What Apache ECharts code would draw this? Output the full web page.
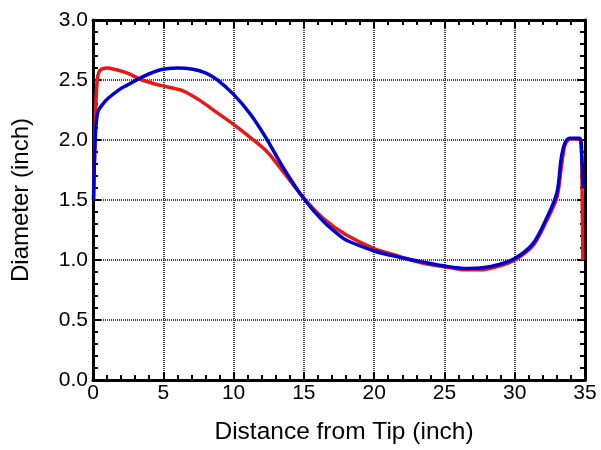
<!DOCTYPE html>
<html>
<head>
<meta charset="utf-8">
<script src="https://cdn.jsdelivr.net/npm/echarts@6/dist/echarts.min.js"></script>
<style>html,body{margin:0;padding:0;background:#fff}#c{width:601px;height:450px}</style>
</head>
<body>
<div id="c"></div>
<script>
var redX = [0.05, 0.15, 0.3, 0.5, 1.0, 1.5, 2.4, 3.5, 4.8, 6.4, 7.6, 8.8, 10, 11.2, 12.4, 13.5, 15, 16.4, 18, 20, 21.8, 23.6, 25, 26.5, 27.5, 28.9, 30, 31.3, 32.2, 33, 33.3, 33.55, 33.8, 34.1, 34.72, 34.8, 34.85];
var redY = [1.5, 2.1, 2.5, 2.58, 2.6, 2.59, 2.56, 2.5, 2.455, 2.41, 2.33, 2.23, 2.13, 2.02, 1.9, 1.74, 1.515, 1.345, 1.21, 1.095, 1.03, 0.97, 0.944, 0.918, 0.918, 0.95, 1.0, 1.12, 1.31, 1.52, 1.76, 1.95, 2.0, 2.01, 2.0, 1.5, 1.0];
var blueX = [0.03, 0.1, 0.2, 0.36, 0.7, 1.1, 2.0, 2.4, 3.6, 4.8, 6.0, 7.1, 8.0, 8.8, 10, 11.2, 12.35, 13.5, 15, 16.4, 17.8, 18.3, 20, 21.8, 23.6, 25, 26.6, 27.7, 28.9, 30, 31.3, 32.25, 33.0, 33.3, 33.55, 33.9, 34.6, 34.75, 34.85];
var blueY = [1.5, 1.8, 2.1, 2.24, 2.30, 2.35, 2.43, 2.455, 2.53, 2.585, 2.60, 2.59, 2.56, 2.505, 2.38, 2.215, 2.01, 1.775, 1.51, 1.32, 1.18, 1.15, 1.075, 1.023, 0.98, 0.95, 0.93, 0.935, 0.963, 1.012, 1.137, 1.344, 1.56, 1.84, 1.967, 2.014, 2.014, 1.9, 1.6];
var xName = 'Distance from Tip (inch)';
var yName = 'Diameter (inch)';

function pairs(xs, ys) { return xs.map(function (x, i) { return [x, ys[i]]; }); }

var font = 'Liberation Sans, Arial, sans-serif';
var axisLine = { show: true, onZero: false, lineStyle: { color: '#000', width: 3 } };
var tick = { show: true, inside: true, length: 8, lineStyle: { color: '#000', width: 2 } };
var minor = { show: true, splitNumber: 5, length: 5, lineStyle: { color: '#000', width: 2 } };
var grid = { show: true, lineStyle: { color: '#444', width: 2, type: [1, 1] } };

var chart = echarts.init(document.getElementById('c'), null, { renderer: 'canvas' });
chart.setOption({
  animation: false,
  backgroundColor: '#fff',
  grid: { left: 93, right: 16, top: 20, bottom: 68 },
  xAxis: [{
    type: 'value', min: 0, max: 35, interval: 5, position: 'bottom',
    name: xName, nameLocation: 'middle', nameGap: 40,
    nameTextStyle: { fontFamily: font, fontSize: 24.5, color: '#000', padding: [0, 0, 0, 10] },
    axisLine: axisLine, axisTick: tick, minorTick: minor, splitLine: grid,
    axisLabel: { fontFamily: font, fontSize: 21, color: '#000', margin: 3 }
  }, {
    type: 'value', min: 0, max: 35, interval: 5, position: 'top',
    axisLine: axisLine, axisTick: tick, minorTick: minor, splitLine: { show: false },
    axisLabel: { show: false }
  }],
  yAxis: [{
    type: 'value', min: 0, max: 3, interval: 0.5, position: 'left',
    name: yName, nameLocation: 'middle', nameGap: 60,
    nameTextStyle: { fontFamily: font, fontSize: 24, color: '#000' },
    axisLine: axisLine, axisTick: tick, minorTick: minor, splitLine: grid,
    axisLabel: { fontFamily: font, fontSize: 21, color: '#000', margin: 5,
      formatter: function (v) { return v.toFixed(1); } }
  }, {
    type: 'value', min: 0, max: 3, interval: 0.5, position: 'right',
    axisLine: axisLine, axisTick: tick, minorTick: minor, splitLine: { show: false },
    axisLabel: { show: false }
  }],
  series: [{
    type: 'line', data: pairs(redX, redY), showSymbol: false, smooth: 0.3,
    lineStyle: { color: '#e81818', width: 3.5 }, z: 3
  }, {
    type: 'line', data: pairs(blueX, blueY), showSymbol: false, smooth: 0.3,
    lineStyle: { color: '#0000d0', width: 3.5 }, z: 4
  }]
});
</script>
</body>
</html>
